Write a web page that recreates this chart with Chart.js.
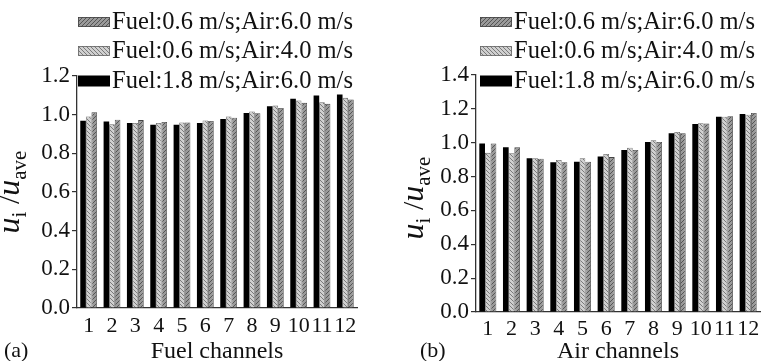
<!DOCTYPE html>
<html>
<head>
<meta charset="utf-8">
<script src="https://cdn.jsdelivr.net/npm/chart.js@4"></script>
<style>
  html, body { margin: 0; padding: 0; background: #fff; }
  #wrap { position: relative; width: 763px; height: 361px; }
  canvas { position: absolute; top: 0; }
  #fuelChart { left: 0; }
  #airChart { left: 380px; }
</style>
</head>
<body>
<div id="wrap">
  <canvas id="fuelChart" width="380" height="361"></canvas>
  <canvas id="airChart" width="383" height="361"></canvas>
</div>
<script>
// Flow non-uniformity u_i/u_ave across the 12 channels
const channels = ['1', '2', '3', '4', '5', '6', '7', '8', '9', '10', '11', '12'];
const seriesLabels = [
    'Fuel:1.8 m/s;Air:6.0 m/s',
    'Fuel:0.6 m/s;Air:4.0 m/s',
    'Fuel:0.6 m/s;Air:6.0 m/s'
];

// (a) fuel channels
const fuelF18A60 = [0.969, 0.965, 0.957, 0.948, 0.948, 0.957, 0.977, 1.009, 1.043, 1.082, 1.099, 1.104];
const fuelF06A40 = [0.991, 0.951, 0.957, 0.957, 0.960, 0.970, 0.991, 1.017, 1.047, 1.073, 1.064, 1.087];
const fuelF06A60 = [1.012, 0.974, 0.972, 0.962, 0.960, 0.967, 0.984, 1.007, 1.035, 1.061, 1.056, 1.078];

// (b) air channels
const airF18A60 = [0.996, 0.973, 0.908, 0.885, 0.888, 0.918, 0.957, 1.004, 1.056, 1.111, 1.154, 1.170];
const airF06A40 = [0.940, 0.938, 0.908, 0.898, 0.908, 0.934, 0.970, 1.015, 1.063, 1.115, 1.154, 1.165];
const airF06A60 = [0.996, 0.973, 0.906, 0.885, 0.888, 0.915, 0.957, 1.004, 1.056, 1.113, 1.157, 1.176];

const fuelYMax = 1.2;
const airYMax = 1.4;
const yStep = 0.2;

const SERIF = "'Liberation Serif', 'Times New Roman', serif";

// diagonal hatch fill; dir 1 = "/", -1 = "\"
function hatch(base, line, dir) {
    const c = document.createElement('canvas');
    c.width = 4; c.height = 4;
    const g = c.getContext('2d');
    g.fillStyle = base;
    g.fillRect(0, 0, 4, 4);
    g.strokeStyle = line;
    g.lineWidth = 1;
    g.beginPath();
    for (let k = -4; k <= 8; k += 4) {
        if (dir > 0) { g.moveTo(k - 4, 4); g.lineTo(k + 4, -4); }
        else { g.moveTo(k - 4, -4); g.lineTo(k + 4, 4); }
    }
    g.stroke();
    return g.createPattern(c, 'repeat');
}

const lightHatch = hatch('#d0d0d0', '#7a7a7a', -1);
const darkHatch = hatch('#9a9a9a', '#555555', 1);

function makeDatasets(a, b, c) {
    return [
        { label: seriesLabels[0], data: a, backgroundColor: '#000', borderColor: '#000', borderWidth: 0 },
        { label: seriesLabels[1], data: b, backgroundColor: lightHatch, borderColor: '#666', borderWidth: 0.8 },
        { label: seriesLabels[2], data: c, backgroundColor: darkHatch, borderColor: '#444', borderWidth: 0.8 }
    ];
}

// legend, axis titles and panel letter
const decorPlugin = {
    id: 'decor',
    afterDraw(chart, args, opts) {
        const ctx = chart.ctx;
        const area = chart.chartArea;
        ctx.save();
        ctx.fillStyle = '#111';

        // legend, listed last series first
        const rows = [22, 51, 81];
        const sx = area.left + opts.legendDx;
        chart.data.datasets.slice().reverse().forEach((ds, i) => {
            const y = rows[i];
            const h = ds.backgroundColor === '#000' ? 11 : 10;
            ctx.fillStyle = ds.backgroundColor;
            ctx.fillRect(sx, y - h / 2, 32, h);
            if (ds.borderWidth) {
                ctx.strokeStyle = ds.borderColor;
                ctx.lineWidth = 0.8;
                ctx.strokeRect(sx + 0.5, y - h / 2 + 0.5, 31, h - 1);
            }
            ctx.fillStyle = '#111';
            ctx.font = '24.5px ' + SERIF;
            ctx.textBaseline = 'middle';
            ctx.textAlign = 'left';
            ctx.fillText(ds.label, sx + 34, y + 1);
        });

        // y title: u_i /u_ave
        ctx.save();
        ctx.translate(opts.yTitleX, opts.yTitleY);
        ctx.rotate(-Math.PI / 2);
        ctx.textBaseline = 'alphabetic';
        ctx.textAlign = 'left';
        const parts = [
            { t: 'u', f: 'italic 32px ' + SERIF, dy: 0 },
            { t: 'i', f: '21px ' + SERIF, dy: 7 },
            { t: ' /', f: '30px ' + SERIF, dy: 0 },
            { t: 'u', f: 'italic 32px ' + SERIF, dy: 0 },
            { t: 'ave', f: '21px ' + SERIF, dy: 7 }
        ];
        let total = 0;
        parts.forEach(p => { ctx.font = p.f; p.w = ctx.measureText(p.t).width; total += p.w; });
        let x = -total / 2;
        parts.forEach(p => {
            ctx.font = p.f;
            ctx.fillText(p.t, x, p.dy);
            x += p.w;
        });
        ctx.restore();

        // x title and panel letter
        ctx.font = '24px ' + SERIF;
        ctx.textAlign = 'center';
        ctx.textBaseline = 'alphabetic';
        ctx.fillText(opts.xTitle, (area.left + area.right) / 2, 358);
        ctx.font = '22px ' + SERIF;
        ctx.textAlign = 'left';
        ctx.fillText(opts.letter, opts.letterX, 357);
        ctx.restore();
    }
};

function makeChart(id, sets, yMax, box, decor) {
    return new Chart(document.getElementById(id), {
        type: 'bar',
        data: { labels: channels, datasets: sets },
        options: {
            responsive: false,
            animation: false,
            devicePixelRatio: 1,
            layout: { padding: { left: 0, top: box.top, right: box.right, bottom: 0 } },
            datasets: { bar: { categoryPercentage: 0.72, barPercentage: 1.0 } },
            plugins: {
                legend: { display: false },
                tooltip: { enabled: false },
                decor: decor
            },
            scales: {
                x: {
                    offset: true,
                    grid: { display: false },
                    border: { display: true, color: '#333', width: 1.3 },
                    ticks: {
                        color: '#111',
                        font: { family: SERIF, size: 22 },
                        autoSkip: false,
                        maxRotation: 0,
                        padding: box.xPad
                    },
                    afterFit(scale) { scale.height = box.xHeight; }
                },
                y: {
                    min: 0,
                    max: yMax,
                    grid: { drawOnChartArea: false, tickLength: 5, color: '#333', lineWidth: 1.2 },
                    border: { display: true, color: '#333', width: 1.3 },
                    ticks: {
                        stepSize: yStep,
                        color: '#111',
                        font: { family: SERIF, size: 23 },
                        padding: 2,
                        callback: v => v.toFixed(1)
                    },
                    afterFit(scale) { scale.width = box.yWidth; }
                }
            }
        },
        plugins: [decorPlugin]
    });
}

makeChart('fuelChart', makeDatasets(fuelF18A60, fuelF06A40, fuelF06A60), fuelYMax,
    { top: 76, right: 23, xHeight: 53, yWidth: 77, xPad: -3 },
    { legendDx: 1, yTitleX: 19, yTitleY: 192, xTitle: 'Fuel channels', letter: '(a)', letterX: 4 });

makeChart('airChart', makeDatasets(airF18A60, airF06A40, airF06A60), airYMax,
    { top: 75, right: 3, xHeight: 49, yWidth: 96, xPad: -4 },
    { legendDx: 4, yTitleX: 43, yTitleY: 198, xTitle: 'Air channels', letter: '(b)', letterX: 40 });
</script>
</body>
</html>
